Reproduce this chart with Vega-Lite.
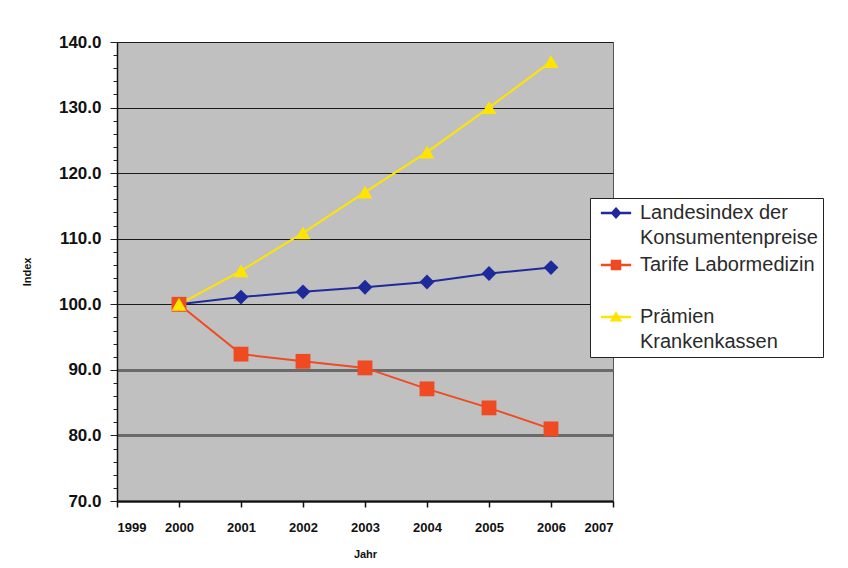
{
  "$schema": "https://vega.github.io/schema/vega-lite/v6.json",
  "width": 496,
  "height": 459,
  "autosize": "none",
  "padding": {"left": 117, "top": 42, "right": 235, "bottom": 67},
  "background": "white",
  "config": {
    "view": {"fill": "#C0C0C0", "stroke": "#555555", "strokeWidth": 1},
    "font": "Liberation Sans"
  },
  "data": {
    "values": [
      {"Jahr": 2000, "Reihe": "Landesindex der|Konsumentenpreise", "Index": 100.0},
      {"Jahr": 2001, "Reihe": "Landesindex der|Konsumentenpreise", "Index": 101.1},
      {"Jahr": 2002, "Reihe": "Landesindex der|Konsumentenpreise", "Index": 101.9},
      {"Jahr": 2003, "Reihe": "Landesindex der|Konsumentenpreise", "Index": 102.6},
      {"Jahr": 2004, "Reihe": "Landesindex der|Konsumentenpreise", "Index": 103.4},
      {"Jahr": 2005, "Reihe": "Landesindex der|Konsumentenpreise", "Index": 104.7},
      {"Jahr": 2006, "Reihe": "Landesindex der|Konsumentenpreise", "Index": 105.6},
      {"Jahr": 2000, "Reihe": "Tarife Labormedizin|", "Index": 100.0},
      {"Jahr": 2001, "Reihe": "Tarife Labormedizin|", "Index": 92.4},
      {"Jahr": 2002, "Reihe": "Tarife Labormedizin|", "Index": 91.3},
      {"Jahr": 2003, "Reihe": "Tarife Labormedizin|", "Index": 90.3},
      {"Jahr": 2004, "Reihe": "Tarife Labormedizin|", "Index": 87.1},
      {"Jahr": 2005, "Reihe": "Tarife Labormedizin|", "Index": 84.2},
      {"Jahr": 2006, "Reihe": "Tarife Labormedizin|", "Index": 81.0},
      {"Jahr": 2000, "Reihe": "Prämien|Krankenkassen", "Index": 100.0},
      {"Jahr": 2001, "Reihe": "Prämien|Krankenkassen", "Index": 105.1},
      {"Jahr": 2002, "Reihe": "Prämien|Krankenkassen", "Index": 110.9},
      {"Jahr": 2003, "Reihe": "Prämien|Krankenkassen", "Index": 117.1},
      {"Jahr": 2004, "Reihe": "Prämien|Krankenkassen", "Index": 123.2},
      {"Jahr": 2005, "Reihe": "Prämien|Krankenkassen", "Index": 130.0},
      {"Jahr": 2006, "Reihe": "Prämien|Krankenkassen", "Index": 137.0}
    ]
  },
  "encoding": {
    "x": {
      "field": "Jahr", "type": "quantitative",
      "scale": {"domain": [1999, 2007], "nice": false, "zero": false},
      "axis": {
        "title": "Jahr", "format": "d", "values": [1999, 2000, 2001, 2002, 2003, 2004, 2005, 2006, 2007],
        "grid": false, "domainColor": "#111", "domainWidth": 1.5, "tickColor": "#111", "tickSize": 6, "tickWidth": 1.5,
        "labelFont": "Liberation Sans", "labelFontWeight": "bold", "labelFontSize": 13, "labelColor": "#111",
        "labelPadding": 14,
        "titleFont": "Liberation Sans", "titleFontWeight": "bold", "titleFontSize": 11, "titleColor": "#111", "titlePadding": 14
      }
    },
    "y": {
      "field": "Index", "type": "quantitative",
      "scale": {"domain": [70, 140], "nice": false, "zero": false},
      "axis": {
        "title": "Index", "values": [70, 72, 74, 76, 78, 80, 82, 84, 86, 88, 90, 92, 94, 96, 98, 100, 102, 104, 106, 108, 110, 112, 114, 116, 118, 120, 122, 124, 126, 128, 130, 132, 134, 136, 138, 140],
        "labelExpr": "datum.value % 10 == 0 ? format(datum.value, '.1f') : ''",
        "grid": true,
        "gridColor": {"condition": {"test": "datum.value < 100", "value": "#6a6a6a"}, "value": "#1a1a1a"},
        "gridWidth": {"condition": {"test": "datum.value < 100", "value": 3}, "value": 1.2},
        "gridOpacity": {"condition": {"test": "datum.value % 10 == 0", "value": 1}, "value": 0},
        "domainColor": "#111", "domainWidth": 1.5, "tickColor": "#222", "tickWidth": 1,
        "tickSize": {"condition": {"test": "datum.value % 10 == 0", "value": 7}, "value": 4},
        "labelFont": "Liberation Sans", "labelFontWeight": "bold", "labelFontSize": 17, "labelColor": "#111",
        "labelPadding": 9,
        "titleFont": "Liberation Sans", "titleFontWeight": "bold", "titleFontSize": 11, "titleColor": "#111", "titlePadding": 26
      }
    },
    "color": {
      "field": "Reihe", "type": "nominal",
      "scale": {
        "domain": ["Landesindex der|Konsumentenpreise", "Tarife Labormedizin|", "Prämien|Krankenkassen"],
        "range": ["#1F2A9A", "#F04A22", "#FFE400"]
      },
      "legend": {
        "title": null, "orient": "none", "legendX": 473, "legendY": 156,
        "labelExpr": "split(datum.label, '|')",
        "labelFont": "Liberation Sans", "labelFontSize": 20, "labelColor": "#2a2a2a", "labelLimit": 300,
        "labelOffset": 14,
        "fillColor": "white", "strokeColor": "#222", "padding": 5, "rowPadding": 7,
        "symbolSize": 324, "symbolOffset": 11,
        "encode": {
          "labels": {"update": {"lineHeight": {"value": 25}}},
          "symbols": {"update": {
            "shape": {"signal": "datum.value == 'Tarife Labormedizin|' ? 'M-1.6,-0.06H1.6V0.06H-1.6Z M-0.5,-0.5H0.5V0.5H-0.5Z' : datum.value == 'Prämien|Krankenkassen' ? 'M-1.6,-0.06H1.6V0.06H-1.6Z M0,-0.48L0.55,0.42H-0.55Z' : 'M-1.6,-0.06H1.6V0.06H-1.6Z M0,-0.55L0.5,0L0,0.55L-0.5,0Z'"}
          }}
        }
      }
    }
  },
  "layer": [
    {"mark": {"type": "line", "strokeWidth": 2}},
    {
      "mark": {"type": "point", "filled": true, "size": 220, "opacity": 1},
      "encoding": {
        "shape": {
          "condition": [
            {"test": "datum.Reihe == 'Tarife Labormedizin|'", "value": "square"},
            {"test": "datum.Reihe == 'Prämien|Krankenkassen'", "value": "triangle-up"}
          ],
          "value": "diamond"
        }
      }
    }
  ]
}
